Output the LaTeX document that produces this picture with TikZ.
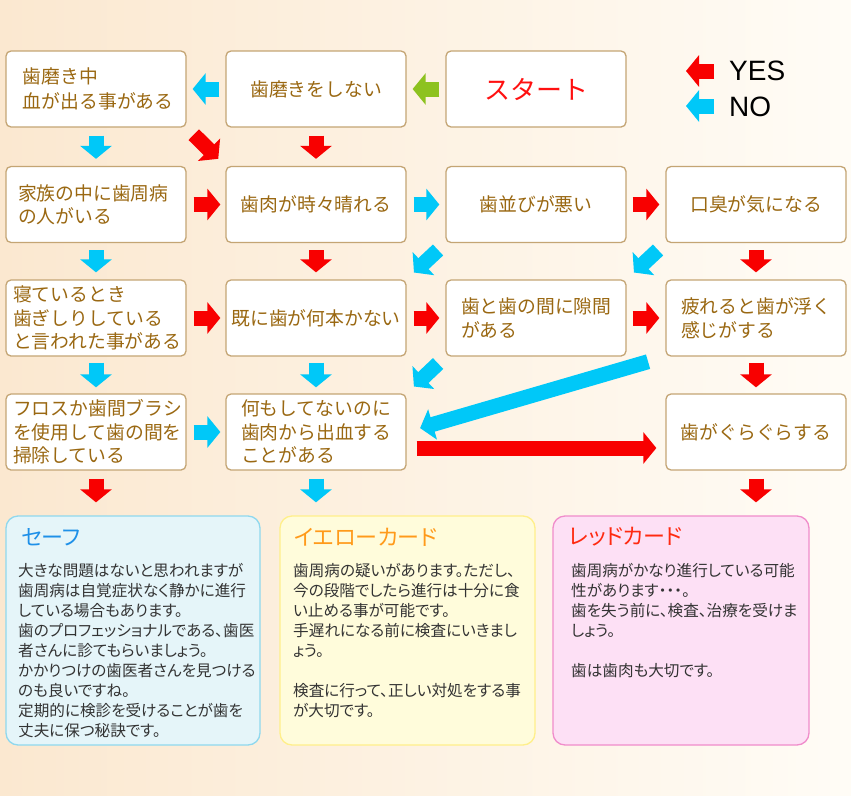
\documentclass[tikz,border=0pt]{standalone}
\usepackage{fontspec}
\setmainfont{Noto Sans CJK JP}
\newfontfamily\jp{Noto Sans CJK JP}
\newfontfamily\jpp[RawFeature=+palt]{Noto Sans CJK JP}
\newfontfamily\lat{Liberation Sans}
\usetikzlibrary{arrows.meta}
\definecolor{bgL}{HTML}{FBE8D0}
\definecolor{bgR}{HTML}{FFFCF6}
\definecolor{boxline}{HTML}{C4A574}
\definecolor{txtbrown}{HTML}{9A6812}
\definecolor{yesred}{HTML}{F80000}
\definecolor{noblue}{HTML}{00C8F8}
\definecolor{gostart}{HTML}{8DC21F}
\definecolor{startred}{HTML}{FF1010}
\definecolor{safefill}{HTML}{E5F5F9}
\definecolor{safeline}{HTML}{8FD8EE}
\definecolor{safetitle}{HTML}{1E90E8}
\definecolor{yelfill}{HTML}{FFFCDB}
\definecolor{yelline}{HTML}{FFEF8A}
\definecolor{yeltitle}{HTML}{FF9A1A}
\definecolor{redfill}{HTML}{FDE0F5}
\definecolor{redline}{HTML}{F08CCB}
\definecolor{redtitle}{HTML}{FF2A10}
\definecolor{bodytxt}{HTML}{333333}
\tikzset{
  box/.style={draw=boxline, line width=1.3pt, fill=white, rounded corners=5pt,
    minimum width=180pt, minimum height=76pt, inner sep=0pt,
    font=\jp\fontsize{18.8}{23.5}\selectfont, text=txtbrown},
  lbox/.style={box, align=left},
  arr/.style={line width=15pt, -{Triangle[width=31pt,length=13pt]}},
  yesarr/.style={arr, draw=yesred},
  noarr/.style={arr, draw=noblue},
  card/.style={line width=1.3pt, rounded corners=12pt, minimum height=229pt, inner sep=0pt},
  cardtitle/.style={anchor=west, inner sep=0pt, font=\jpp\fontsize{22}{24}\selectfont},
  cardbody/.style={anchor=north west, inner sep=0pt, align=left, text=bodytxt,
    font=\jpp\fontsize{15.6}{19.9}\selectfont},
  legend/.style={anchor=west, inner sep=0pt, font=\lat\fontsize{28}{30}\selectfont, text=black}
}
\begin{document}
\begin{tikzpicture}[x=1pt,y=-1pt]
\useasboundingbox (0,0) rectangle (851,795);
\shade[left color=bgL, right color=bgR] (0,0) rectangle (851,795);

% row 1
\node[lbox, text width=146pt, inner xsep=17pt, font=\jp\fontsize{18.8}{25}\selectfont] (A1) at (96,89) {歯磨き中\\血が出る事がある};
\node[box] (B1) at (316,89) {歯磨きをしない};
\node[box, text=startred, font=\jp\fontsize{26}{30}\selectfont] (C1) at (536,89) {スタート};

% legend
\node[legend] (yes) at (729,71) {YES};
\node[legend] (no) at (729,107) {NO};
\coordinate (yesS) at (714,71);
\coordinate (yesE) at (686,71);
\coordinate (noS) at (714,106);
\coordinate (noE) at (686,106);
\draw[yesarr] (yesS) -- (yesE);
\draw[noarr] (noS) -- (noE);

% row 2
\node[lbox, text width=156pt, inner xsep=12pt] (A2) at (96,204.5) {家族の中に歯周病\\の人がいる};
\node[box] (B2) at (316,204.5) {歯肉が時々晴れる};
\node[box] (C2) at (536,204.5) {歯並びが悪い};
\node[box] (D2) at (756,204.5) {口臭が気になる};

% row 3
\node[lbox, text width=166pt, inner xsep=7pt] (A3) at (96,318) {寝ているとき\\歯ぎしりしている\\と言われた事がある};
\node[box] (B3) at (316,318) {既に歯が何本かない};
\node[lbox, text width=150pt, inner xsep=15pt] (C3) at (536,318) {歯と歯の間に隙間\\がある};
\node[lbox, text width=150pt, inner xsep=15pt] (D3) at (756,318) {疲れると歯が浮く\\感じがする};

% row 4
\node[lbox, text width=166pt, inner xsep=7pt] (A4) at (96,432) {フロスか歯間ブラシ\\を使用して歯の間を\\掃除している};
\node[lbox, text width=150pt, inner xsep=15pt] (B4) at (316,432) {何もしてないのに\\歯肉から出血する\\ことがある};
\node[box] (D4) at (756,432) {歯がぐらぐらする};

% cards
\node[card, fill=safefill, draw=safeline, minimum width=254pt] (S) at (133,630.5) {};
\node[card, fill=yelfill, draw=yelline, minimum width=255pt] (Y) at (407.5,630.5) {};
\node[card, fill=redfill, draw=redline, minimum width=256pt] (R) at (681,630.5) {};

\node[cardtitle, text=safetitle] (St) at (21,537) {セーフ};
\node[cardtitle, text=yeltitle] (Yt) at (294,537) {イエローカード};
\node[cardtitle, text=redtitle] (Rt) at (569,537) {レッドカード};

\node[cardbody] (Sb) at (18,563.5) {大きな問題はないと思われますが\\歯周病は自覚症状なく静かに進行\\している場合もあります。\\歯のプロフェッショナルである、歯医\\者さんに診てもらいましょう。\\かかりつけの歯医者さんを見つける\\のも良いですね。\\定期的に検診を受けることが歯を\\丈夫に保つ秘訣です。};
\node[cardbody] (Yb) at (293,563.5) {歯周病の疑いがあります。ただし、\\今の段階でしたら進行は十分に食\\い止める事が可能です。\\手遅れになる前に検査にいきまし\\ょう。\\[19.9pt]検査に行って、正しい対処をする事\\が大切です。};
\node[cardbody] (Rb) at (571,563.5) {歯周病がかなり進行している可能\\性があります・・・。\\歯を失う前に、検査、治療を受けま\\しょう。\\[19.9pt]歯は歯肉も大切です。};

% connectors row 1
\draw[arr, draw=gostart, shorten <=6pt, shorten >=6pt] (C1.west) -- (B1.east);
\draw[noarr, shorten <=6pt, shorten >=6pt] (B1.west) -- (A1.east);
\draw[noarr, shorten <=8pt, shorten >=7pt] (A1.south) -- (A2.north);
\draw[yesarr, shorten <=10pt, shorten >=10pt] (A1.south east) -- (B2.north west);
\draw[yesarr, shorten <=8pt, shorten >=7pt] (B1.south) -- (B2.north);

% row 2
\draw[yesarr, shorten <=7pt, shorten >=5pt] (A2.east) -- (B2.west);
\draw[noarr, shorten <=7pt, shorten >=6pt] (B2.east) -- (C2.west);
\draw[yesarr, shorten <=6pt, shorten >=6pt] (C2.east) -- (D2.west);
\draw[noarr, shorten <=7pt, shorten >=7pt] (A2.south) -- (A3.north);
\draw[yesarr, shorten <=7pt, shorten >=7pt] (B2.south) -- (B3.north);
\draw[noarr, shorten <=10pt, shorten >=10pt] (C2.south west) -- (B3.north east);
\draw[noarr, shorten <=10pt, shorten >=10pt] (D2.south west) -- (C3.north east);
\draw[yesarr, shorten <=7pt, shorten >=7pt] (D2.south) -- (D3.north);

% row 3
\draw[yesarr, shorten <=7pt, shorten >=5pt] (A3.east) -- (B3.west);
\draw[yesarr, shorten <=7pt, shorten >=6pt] (B3.east) -- (C3.west);
\draw[yesarr, shorten <=6pt, shorten >=6pt] (C3.east) -- (D3.west);
\draw[noarr, shorten <=6pt, shorten >=6pt] (A3.south) -- (A4.north);
\draw[noarr, shorten <=6pt, shorten >=6pt] (B3.south) -- (B4.north);
\draw[noarr, shorten <=10pt, shorten >=10pt] (C3.south west) -- (B4.north east);
\draw[noarr, shorten <=18pt, shorten >=14pt] (D3.south west) -- (B4.east);
\draw[yesarr, shorten <=6pt, shorten >=6pt] (D3.south) -- (D4.north);

% row 4
\draw[noarr, shorten <=7pt, shorten >=5pt] (A4.east) -- (B4.west);
\draw[yesarr, shorten <=10pt, shorten >=9pt] ([yshift=-16pt]B4.east) -- ([yshift=-16pt]D4.west);
\draw[yesarr, shorten <=8pt, shorten >=13pt] (A4.south) -- (A4.south |- S.north);
\draw[noarr, shorten <=8pt, shorten >=13pt] (B4.south) -- (B4.south |- Y.north);
\draw[yesarr, shorten <=8pt, shorten >=13pt] (D4.south) -- (D4.south |- R.north);
\end{tikzpicture}
\end{document}
